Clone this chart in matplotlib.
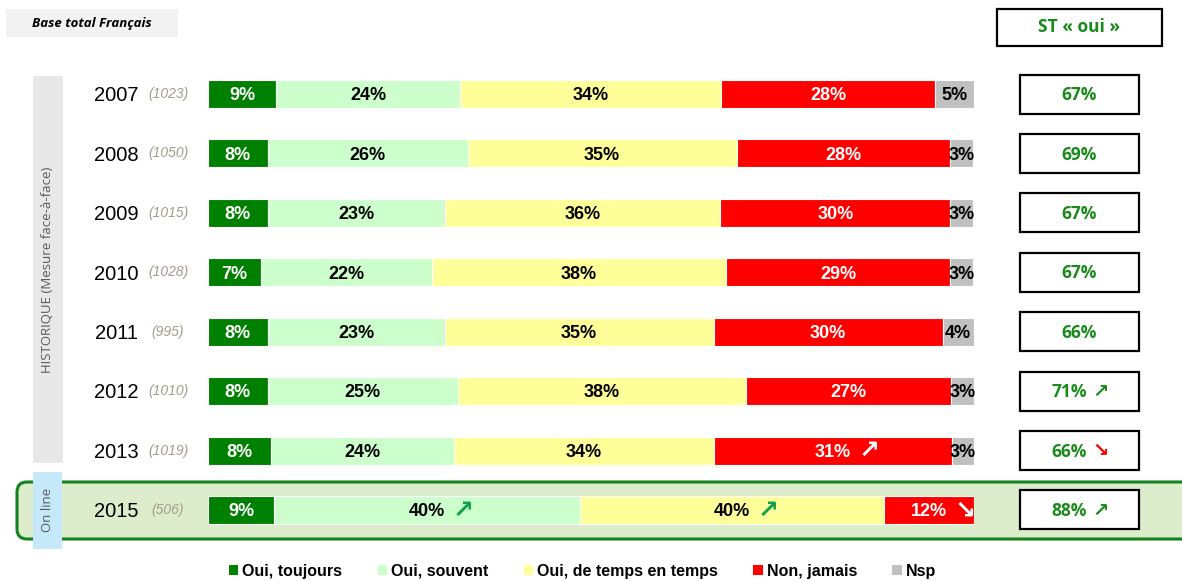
import matplotlib
matplotlib.use('Agg')
import matplotlib.pyplot as plt
from matplotlib.patches import Rectangle, FancyBboxPatch, Patch
from matplotlib.transforms import blended_transform_factory

plt.rcParams['font.family'] = ['Liberation Sans', 'DejaVu Sans']

# data
years = ['2007', '2008', '2009', '2010', '2011', '2012', '2013', '2015']
bases = ['(1023)', '(1050)', '(1015)', '(1028)', '(995)', '(1010)', '(1019)', '(506)']
categories = ['Oui, toujours', 'Oui, souvent', 'Oui, de temps en temps', 'Non, jamais', 'Nsp']
toujours = [8.9, 7.8, 7.8, 6.9, 7.8, 7.8, 8.2, 8.6]
souvent = [24.0, 26.1, 23.1, 22.3, 23.1, 24.8, 23.9, 39.9]
temps = [34.1, 35.1, 36.0, 38.4, 35.1, 37.6, 33.9, 39.8]
jamais = [27.9, 27.9, 30.0, 29.3, 29.9, 26.8, 31.1, 11.7]
nsp = [5.1, 3.0, 3.0, 3.0, 4.1, 3.0, 2.9, 0]
st_oui = [67, 69, 67, 67, 66, 71, 66, 88]
st_trend = ['', '', '', '', '', 'up', 'down', 'up']
# trend arrows inside bars: (row, segment, direction)
bar_trend = [(6, 3, 'up'), (7, 1, 'up'), (7, 2, 'up'), (7, 3, 'down')]

colors = ['#008000', '#ccffcc', '#ffff99', '#ff0000', '#c0c0c0']
txt_colors = ['white', 'black', 'black', 'white', 'black']
series = [toujours, souvent, temps, jamais, nsp]

fig = plt.figure(figsize=(11.82, 5.81), dpi=100)

# background layer in pixel units
bg = fig.add_axes([0, 0, 1, 1])
bg.set_xlim(0, 1182)
bg.set_ylim(581, 0)
bg.axis('off')

bg.add_patch(Rectangle((6, 9), 172, 28, fc='#f2f2f2', ec='none'))
bg.text(92, 23, 'Base total Français', ha='center', va='center', fontsize=9.5,
        fontweight='bold', fontstyle='italic', family=['Open Sans'])
bg.add_patch(Rectangle((997, 9), 165, 37, fc='white', ec='black', lw=1.6))
bg.text(1079.5, 27.5, 'ST « oui »', ha='center', va='center', fontsize=12.5,
        fontweight='bold', color='#1a8a1a', family=['Open Sans'])

bg.add_patch(Rectangle((33, 76), 30, 387, fc='#e8e8e8', ec='none'))
bg.text(48, 270, 'HISTORIQUE (Mesure face-à-face)', rotation=90, ha='center', va='center',
        fontsize=9.5, color='#595959', family=['Open Sans'])

bg.add_patch(FancyBboxPatch((17, 482), 1220, 57, boxstyle='round,pad=0,rounding_size=10',
                            fc='#ddedcb', ec='#14821e', lw=2.2, zorder=1))
bg.add_patch(Rectangle((33, 472), 29, 77, fc='#c5e9fb', ec='none', zorder=2))
bg.text(47.5, 510, 'On line', rotation=90, ha='center', va='center',
        fontsize=9.5, color='#595959', family=['Open Sans'], zorder=3)

# bars
ax = fig.add_axes([208 / 1182, 0, 766 / 1182, 1])
ax.set_xlim(0, 100)
ax.set_ylim(8.195, -1.582)
ax.axis('off')
ax.patch.set_alpha(0)

rows = list(range(len(years)))
left = [0.0] * len(years)
for k, vals in enumerate(series):
    ax.barh(rows, vals, left=left, height=0.47, color=colors[k],
            edgecolor='white', linewidth=0.8, label=categories[k])
    for i, v in enumerate(vals):
        if v > 0:
            ax.text(left[i] + v / 2, i + 0.03, f'{v:.0f}%', ha='center', va='center',
                    fontsize=13, fontweight='bold', color=txt_colors[k])
    left = [l + v for l, v in zip(left, vals)]

for i, k, d in bar_trend:
    start = sum(s[i] for s in series[:k])
    xc = start + series[k][i] / 2
    col = 'white' if k == 3 else '#12a14b'
    ax.text(xc + 4.7, i + 0.01, '↗' if d == 'up' else '↘', ha='center', va='center',
            fontsize=18, fontweight='bold', color=col, family=['DejaVu Sans'])

tr = blended_transform_factory(bg.transData, ax.transData)
for i in rows:
    ax.text(116, i + 0.03, years[i], transform=tr, ha='center', va='center', fontsize=14.5)
    ax.text(168, i + 0.0, bases[i], transform=tr, ha='center', va='center', fontsize=10,
            fontstyle='italic', color='#a39c8e')
    ax.add_patch(Rectangle((1020, i - 0.328), 119, 0.656, transform=tr, fc='white',
                           ec='black', lw=1.6, clip_on=False))
    if st_trend[i]:
        ax.text(1069, i + 0.02, f'{st_oui[i]}%', transform=tr, ha='center', va='center',
                fontsize=12.5, fontweight='bold', color='#1a8a1a', family=['Open Sans'])
        up = st_trend[i] == 'up'
        ax.text(1101, i + 0.0, '↗' if up else '↘', transform=tr, ha='center', va='center',
                fontsize=14, fontweight='bold', color='#1a8a1a' if up else '#ff0000',
                family=['DejaVu Sans'])
    else:
        ax.text(1079.5, i + 0.02, f'{st_oui[i]}%', transform=tr, ha='center', va='center',
                fontsize=12.5, fontweight='bold', color='#1a8a1a', family=['Open Sans'])

handles = [Patch(fc=c, ec='none', label=l) for c, l in zip(colors, categories)]
fig.legend(handles=handles, loc='center', bbox_to_anchor=(0.4928, 0.0172), ncol=5,
           frameon=False, handlelength=0.6, handleheight=0.6, handletextpad=0.25,
           columnspacing=2.2, prop={'weight': 'bold', 'size': 11.5})

fig.savefig('out.png', dpi=100)
